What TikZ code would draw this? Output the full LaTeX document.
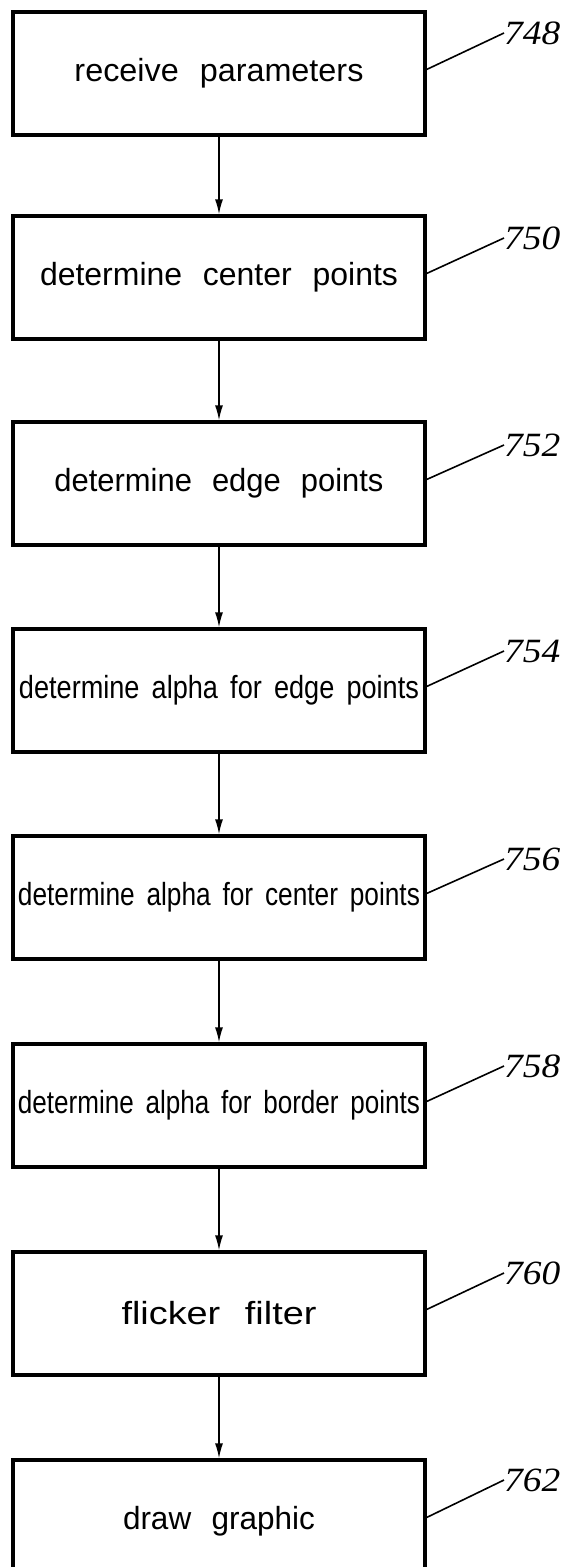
\documentclass[tikz,border=0pt]{standalone}
\usepackage{fontspec}
\usepackage{graphicx}
\setmainfont{Liberation Sans}
\newfontfamily\lblfont{Liberation Serif}
\usetikzlibrary{arrows.meta}
\newcommand\bt[3][0.65em]{\resizebox{#2pt}{\height}{\spaceskip=#1\relax #3}}
\newcommand\lt[1]{\scalebox{1.1}[1]{\lblfont\itshape #1}}
\tikzset{
  box/.style={draw, line width=3.2pt, minimum width=412pt, minimum height=123pt, inner sep=0pt,
              font=\fontsize{32}{38}\selectfont},
  lbl/.style={anchor=west, inner sep=0pt, font=\fontsize{34}{38}\selectfont},
  lead/.style={line width=1.6pt},
  arr/.style={line width=1.6pt, -{Latex[length=15pt,width=8pt]}}
}
\begin{document}
\begin{tikzpicture}[x=1pt,y=-1pt]
\useasboundingbox (0,0) rectangle (570,1567);
\fill[white] (0,0) rectangle (570,1567);
% boxes
\node[box] (b1) at (219,73.5)   {\bt{289}{receive parameters}};
\node[box] (b2) at (219,277.5)  {\bt{358}{determine center points}};
\node[box] (b3) at (219,483.5)  {\bt{329}{determine edge points}};
\node[box] (b4) at (219,690.5)  {\bt[0.45em]{400}{determine alpha for edge points}};
\node[box] (b5) at (219,897.5)  {\bt[0.45em]{402}{determine alpha for center points}};
\node[box] (b6) at (219,1105.5) {\bt[0.45em]{402}{determine alpha for border points}};
\node[box] (b7) at (219,1313.5) {\bt{195}{flicker filter}};
\node[box] (b8) at (219,1521.5) {\bt{192}{draw graphic}};
% reference labels
\node[lbl] (l1) at (504,33)   {\lt{748}};
\node[lbl] (l2) at (504,238)  {\lt{750}};
\node[lbl] (l3) at (504,445)  {\lt{752}};
\node[lbl] (l4) at (504,651)  {\lt{754}};
\node[lbl] (l5) at (504,859)  {\lt{756}};
\node[lbl] (l6) at (504,1066) {\lt{758}};
\node[lbl] (l7) at (504,1273) {\lt{760}};
\node[lbl] (l8) at (504,1480) {\lt{762}};
% leaders
\foreach \i in {1,...,8} {
  \draw[lead] ([yshift=4pt]b\i.east) -- (l\i.west);
}
% arrows
\foreach \i/\j in {1/2,2/3,3/4,4/5,5/6,6/7,7/8} {
  \draw[arr] (b\i.south) -- (b\j.north);
}
\end{tikzpicture}
\end{document}
